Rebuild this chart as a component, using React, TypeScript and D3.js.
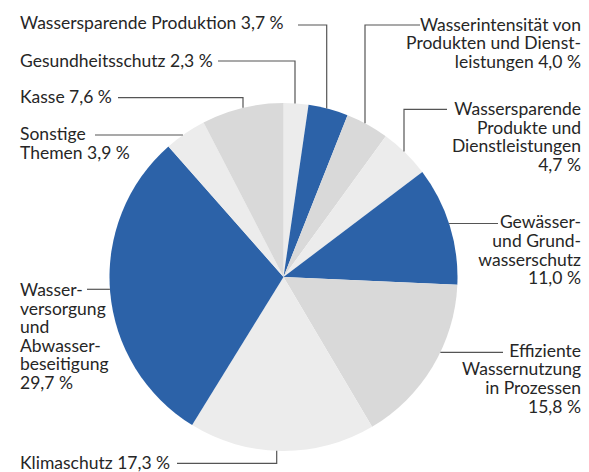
import React, { useEffect, useRef } from 'react';
import * as d3 from 'd3';

// slices clockwise from 12 o'clock
const categories = [
  'Gesundheitsschutz',
  'Wassersparende Produktion',
  'Wasserintensität von Produkten und Dienstleistungen',
  'Wassersparende Produkte und Dienstleistungen',
  'Gewässer- und Grundwasserschutz',
  'Effiziente Wassernutzung in Prozessen',
  'Klimaschutz',
  'Wasserversorgung und Abwasserbeseitigung',
  'Sonstige Themen',
  'Kasse',
];
const values = [2.3, 3.7, 4.0, 4.7, 11.0, 15.8, 17.3, 29.7, 3.9, 7.6];
const tones = ['light', 'blue', 'gray', 'light', 'blue', 'gray', 'light', 'blue', 'light', 'gray'];
const labelLines = [
  ['Gesundheitsschutz 2,3 %'],
  ['Wassersparende Produktion 3,7 %'],
  ['Wasserintensität von', 'Produkten und Dienst-', 'leistungen 4,0 %'],
  ['Wassersparende', 'Produkte und', 'Dienstleistungen', '4,7 %'],
  ['Gewässer-', 'und Grund-', 'wasserschutz', '11,0 %'],
  ['Effiziente', 'Wassernutzung', 'in Prozessen', '15,8 %'],
  ['Klimaschutz 17,3 %'],
  ['Wasser-', 'versorgung', 'und', 'Abwasser-', 'beseitigung', '29,7 %'],
  ['Sonstige', 'Themen 3,9 %'],
  ['Kasse 7,6 %'],
];

const W = 589;
const H = 472;
const cx = 283.5;
const cy = 277;
const R = 174;
const lineH = 18.6;

const colorOf: Record<string, string> = {
  blue: '#2c62a8',
  gray: '#d9d9d9',
  light: '#ececec',
};

// label placement: text anchor, first baseline, leader start + optional elbow
const layout = [
  { anchor: 'start', x: 20, y: 66.7, ly: 61, lx: 218, ex: 295 },
  { anchor: 'start', x: 20, y: 29, ly: 25, lx: 298, ex: 326.7 },
  { anchor: 'end', x: 581, y: 30.7, ly: 25, lx: 420, ex: 365 },
  { anchor: 'end', x: 581, y: 115, ly: 109.3, lx: 447, ex: 404 },
  { anchor: 'end', x: 581, y: 228.3, ly: 223.5, lx: 498, ex: null },
  { anchor: 'end', x: 581, y: 356.7, ly: 352.3, lx: 503, ex: null },
  { anchor: 'start', x: 20, y: 469, ly: 463.3, lx: 177, ex: 276.7 },
  { anchor: 'start', x: 20, y: 296, ly: 289.3, lx: 87, ex: null },
  { anchor: 'start', x: 20, y: 140, ly: 135, lx: 95, ex: null },
  { anchor: 'start', x: 20, y: 103, ly: 97.7, lx: 118, ex: 243 },
];

export default function App() {
  const ref = useRef<SVGSVGElement>(null);

  useEffect(() => {
    const svg = d3.select(ref.current);
    svg.selectAll('*').remove();

    const pie = d3.pie<number>().sort(null).value((d) => d)(values);
    const arc = d3.arc<d3.PieArcDatum<number>>().innerRadius(0).outerRadius(R);

    svg
      .append('g')
      .attr('transform', `translate(${cx},${cy})`)
      .selectAll('path')
      .data(pie)
      .join('path')
      .attr('d', arc)
      .attr('fill', (_, i) => colorOf[tones[i]])
      .append('title')
      .text((_, i) => categories[i]);

    // leader lines
    const leaders = svg.append('g').attr('fill', 'none').attr('stroke', '#555').attr('stroke-width', 1.2);
    layout.forEach((l) => {
      const pts: [number, number][] = [[l.lx, l.ly]];
      if (l.ex != null) {
        const dy = Math.sqrt(R * R - (l.ex - cx) ** 2);
        const yEnd = l.ly < cy ? cy - dy : cy + dy;
        pts.push([l.ex, l.ly], [l.ex, yEnd]);
      } else {
        const dx = Math.sqrt(R * R - (l.ly - cy) ** 2);
        const xEnd = l.lx > cx ? cx + dx : cx - dx;
        pts.push([xEnd, l.ly]);
      }
      leaders.append('path').attr('d', d3.line()(pts));
    });

    // labels
    const labels = svg
      .append('g')
      .attr('font-family', 'Lato, "Noto Sans", sans-serif')
      .attr('font-size', 17.5)
      .attr('fill', '#262626');
    layout.forEach((l, i) => {
      const t = labels.append('text').attr('text-anchor', l.anchor);
      labelLines[i].forEach((s, j) => {
        t.append('tspan').attr('x', l.x).attr('y', l.y + j * lineH).text(s);
      });
    });
  }, []);

  return (
    <svg
      ref={ref}
      width={W}
      height={H}
      style={{ display: 'block', position: 'absolute', left: 0, top: 0 }}
    />
  );
}
